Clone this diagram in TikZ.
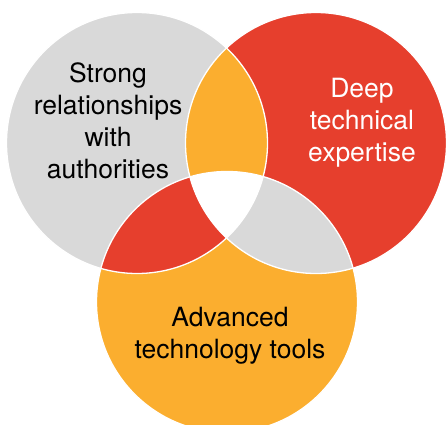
\documentclass[tikz,border=0pt]{standalone}
\usepackage{fontspec}
\setmainfont{TeX Gyre Heros}
\definecolor{vgray}{HTML}{D9D9D9}
\definecolor{vred}{HTML}{E63F2D}
\definecolor{vorange}{HTML}{FBAE2F}
\begin{document}
\begin{tikzpicture}[x=1pt,y=-1pt,
  label/.style={align=center,inner sep=0pt,font=\fontsize{26.5}{32}\selectfont},
  rim/.style={draw=white,line width=1.3pt}]
\useasboundingbox (0,0) rectangle (448,425);
\clip (0,0) rectangle (448,425);
\def\rad{130.5}
% circle centres
\coordinate (G) at (137,143);
\coordinate (R) at (316,143);
\coordinate (O) at (227,302);
% the three sets
\fill[vgray] (G) circle[radius=\rad];
\fill[vred] (R) circle[radius=\rad];
\fill[vorange] (O) circle[radius=\rad];
% pairwise overlaps
\begin{scope}
  \clip (G) circle[radius=\rad];
  \fill[vorange] (R) circle[radius=\rad];
  \fill[vred] (O) circle[radius=\rad];
\end{scope}
\begin{scope}
  \clip (R) circle[radius=\rad];
  \fill[vgray] (O) circle[radius=\rad];
\end{scope}
% centre of all three
\begin{scope}
  \clip (G) circle[radius=\rad];
  \clip (R) circle[radius=\rad];
  \fill[white] (O) circle[radius=\rad];
\end{scope}
% white separating rims
\draw[rim] (G) circle[radius=\rad];
\draw[rim] (R) circle[radius=\rad];
\draw[rim] (O) circle[radius=\rad];
% labels
\node[label,text=black] (lg) at (108,120.5) {Strong\\relationships\\with\\authorities};
\node[label,text=white] (lr) at (362,122.8) {Deep\\technical\\expertise};
\node[label,text=black] (lo) at (230,336) {Advanced\\technology tools};
\end{tikzpicture}
\end{document}
